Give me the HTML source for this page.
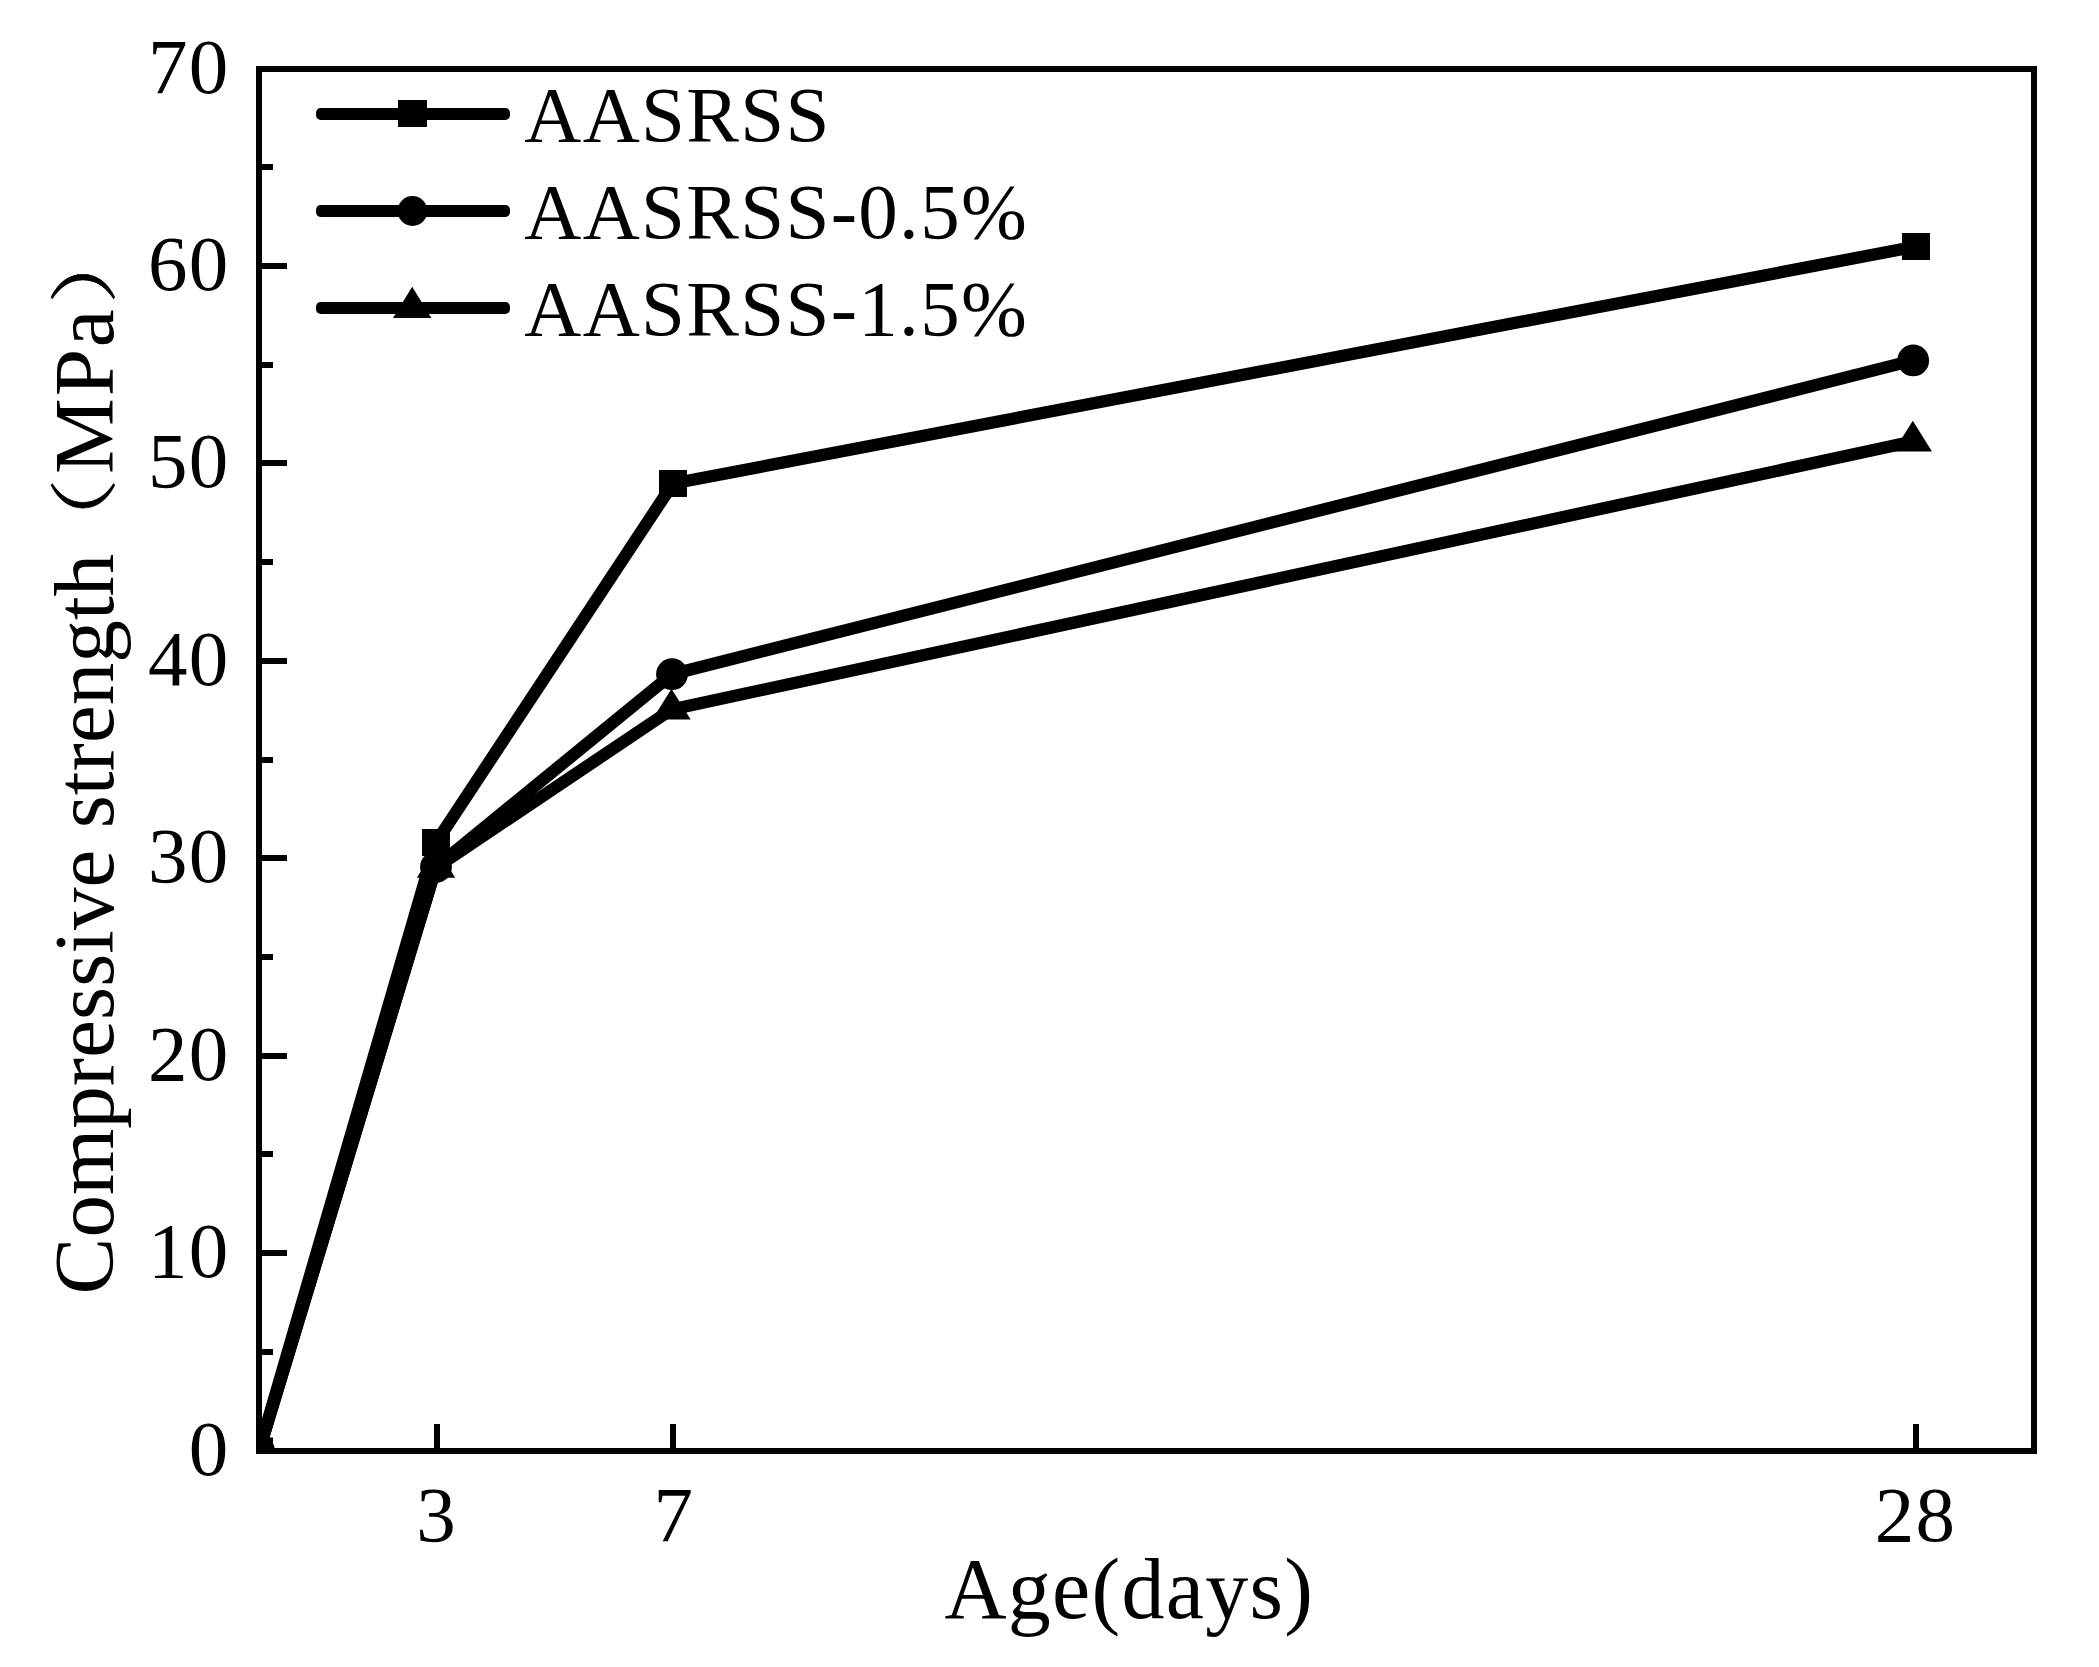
<!DOCTYPE html>
<html lang="en">
<head>
<meta charset="utf-8">
<title>Compressive strength vs age</title>
<style>
html,body{margin:0;padding:0;background:#fff;}
body{width:2099px;height:1667px;overflow:hidden;}
svg{display:block;}
text{font-family:"Liberation Serif","Noto Serif CJK SC",serif;fill:#000;}
.tick{font-size:79px;letter-spacing:1.3px;}
.leg{font-size:79px;letter-spacing:1.3px;}
.ttl{font-size:86px;letter-spacing:1.29px;}
.ytl{font-size:85.2px;}
.cjk{font-family:"Noto Serif CJK SC","Liberation Serif",serif;}
</style>
</head>
<body>
<svg width="2099" height="1667" viewBox="0 0 2099 1667">
<rect x="0" y="0" width="2099" height="1667" fill="#fff"/>
<defs><clipPath id="plot"><rect x="259" y="69" width="1775" height="1382"/></clipPath></defs>
<!-- data lines -->
<g clip-path="url(#plot)" fill="none" stroke="#000" stroke-width="12.3" stroke-linejoin="round" stroke-linecap="round">
<polyline points="259.0,1451.0 436.0,842.5 673.0,483.5 1916.0,246.5"/>
<polyline points="259.0,1451.0 436.0,867.0 672.0,674.2 1913.2,360.4"/>
<polyline points="259.0,1451.0 436.0,867.6 671.5,709.5 1912.8,441.5"/>
</g>
<!-- data markers -->
<g fill="#000" clip-path="url(#plot)">
<rect x="245.0" y="1437.5" width="28" height="27"/>
<rect x="422.0" y="829.0" width="28" height="27"/>
<rect x="659.0" y="470.0" width="28" height="27"/>
<rect x="1902.0" y="233.0" width="28" height="27"/>
<circle cx="259.0" cy="1451.0" r="15.9"/>
<circle cx="436.0" cy="867.0" r="15.9"/>
<circle cx="672.0" cy="674.2" r="15.9"/>
<circle cx="1913.2" cy="360.4" r="15.9"/>
<polygon points="259.0,1430.3 278.2,1461.1 239.8,1461.1"/>
<polygon points="436.0,846.9 455.2,877.7 416.8,877.7"/>
<polygon points="671.5,688.8 690.7,719.6 652.3,719.6"/>
<polygon points="1912.8,420.8 1932.0,451.6 1893.6,451.6"/>
</g>
<!-- axes frame and ticks -->
<g fill="#000" shape-rendering="crispEdges">
<rect x="256" y="66" width="1781" height="6"/>
<rect x="256" y="1448" width="1781" height="6"/>
<rect x="256" y="66" width="6" height="1388"/>
<rect x="2031" y="66" width="6" height="1388"/>
<rect x="262" y="1349" width="11" height="6"/>
<rect x="262" y="1250" width="25" height="6"/>
<rect x="262" y="1151" width="11" height="6"/>
<rect x="262" y="1053" width="25" height="6"/>
<rect x="262" y="954" width="11" height="6"/>
<rect x="262" y="855" width="25" height="6"/>
<rect x="262" y="757" width="11" height="6"/>
<rect x="262" y="658" width="25" height="6"/>
<rect x="262" y="559" width="11" height="6"/>
<rect x="262" y="460" width="25" height="6"/>
<rect x="262" y="362" width="11" height="6"/>
<rect x="262" y="263" width="25" height="6"/>
<rect x="262" y="164" width="11" height="6"/>
<rect x="434" y="1424" width="6" height="24"/>
<rect x="670" y="1424" width="6" height="24"/>
<rect x="1913" y="1424" width="6" height="24"/>
</g>
<!-- tick labels -->
<g class="tick" text-anchor="end">
<text x="229.6" y="1474.8">0</text>
<text x="229.6" y="1276.8">10</text>
<text x="229.6" y="1079.8">20</text>
<text x="229.6" y="881.8">30</text>
<text x="229.6" y="684.8">40</text>
<text x="229.6" y="486.8">50</text>
<text x="229.6" y="289.8">60</text>
<text x="229.6" y="92.8">70</text>
</g>
<g class="tick" text-anchor="middle">
<text x="436.6" y="1541">3</text>
<text x="674.0" y="1541">7</text>
<text x="1915.6" y="1541">28</text>
</g>
<!-- axis titles -->
<text class="ttl" x="944.4" y="1618">Age(days)</text>
<g transform="translate(112.8,1294.4) rotate(-90)">
<text class="ytl" x="0" y="0">Compressive strength</text>
<text class="ytl cjk" transform="translate(730.8,-3.7) scale(1,0.8)" stroke="#000" stroke-width="0.7">（</text>
<text class="ytl" x="820.5" y="0" style="letter-spacing:1.8px">MPa</text>
<text class="ytl cjk" transform="translate(990.5,-3.7) scale(1,0.8)" stroke="#000" stroke-width="0.7">）</text>
</g>
<!-- legend -->
<g fill="#000">
<rect x="316" y="108" width="194" height="12" rx="4.5" ry="5"/>
<rect x="316" y="205" width="194" height="12" rx="4.5" ry="5"/>
<rect x="316" y="302" width="194" height="12" rx="4.5" ry="5"/>
<rect x="398.0" y="100.0" width="29" height="27"/>
<circle cx="412.5" cy="211.0" r="14.9"/>
<polygon points="412.2,286.8 431.4,318.0 393.0,318.0"/>
</g>
<g class="leg">
<text x="524.3" y="140.6">AASRSS</text>
<text x="524.3" y="237.8">AASRSS-0.5%</text>
<text x="524.3" y="334.7">AASRSS-1.5%</text>
</g>
</svg>
</body>
</html>
